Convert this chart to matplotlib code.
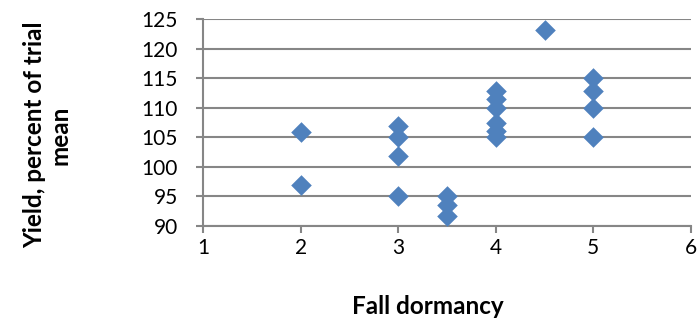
import matplotlib.pyplot as plt

# fall dormancy vs yield (percent of trial mean)
dormancy = [2, 2, 3, 3, 3, 3, 3.5, 3.5, 3.5, 4, 4, 4, 4, 4, 4, 4.5, 5, 5, 5, 5]
yield_pct = [105.9, 96.9, 106.9, 105.0, 101.9, 95.1, 95.1, 93.6, 91.7,
             112.9, 111.5, 110.0, 107.4, 106.1, 105.0, 123.2, 115.1, 112.8, 110.0, 105.1]
x_ticks = [1, 2, 3, 4, 5, 6]
y_ticks = [90, 95, 100, 105, 110, 115, 120, 125]

plt.rcParams['font.family'] = ['Lato', 'DejaVu Sans']
grey = '#868686'

fig = plt.figure(figsize=(7, 3.2), dpi=100)
ax = fig.add_axes([0.29, 0.294, 0.697, 0.646])

ax.scatter(dormancy, yield_pct, marker='D', s=110, color='#4F81BD', zorder=3, linewidths=0)

ax.set_xlim(1, 6)
ax.set_ylim(90, 125)
ax.set_xticks(x_ticks)
ax.set_yticks(y_ticks)
ax.grid(axis='y', color=grey, linewidth=1.5)
ax.set_axisbelow(True)

for side in ['top', 'right']:
    ax.spines[side].set_visible(False)
for side in ['left', 'bottom']:
    ax.spines[side].set_color(grey)
    ax.spines[side].set_linewidth(1.5)
ax.tick_params(colors=grey, width=1.5, length=5, labelcolor='black', labelsize=15)
ax.tick_params(axis='y', pad=13)

ax.set_xlabel('Fall dormancy', fontsize=17.5, fontweight='bold')
ax.xaxis.set_label_coords(0.46, -0.335)
ax.set_ylabel('Yield, percent of trial\nmean', fontsize=17.5, fontweight='bold', linespacing=1.1)
ax.yaxis.set_label_coords(-0.27, 0.44)

plt.savefig('out.png')
